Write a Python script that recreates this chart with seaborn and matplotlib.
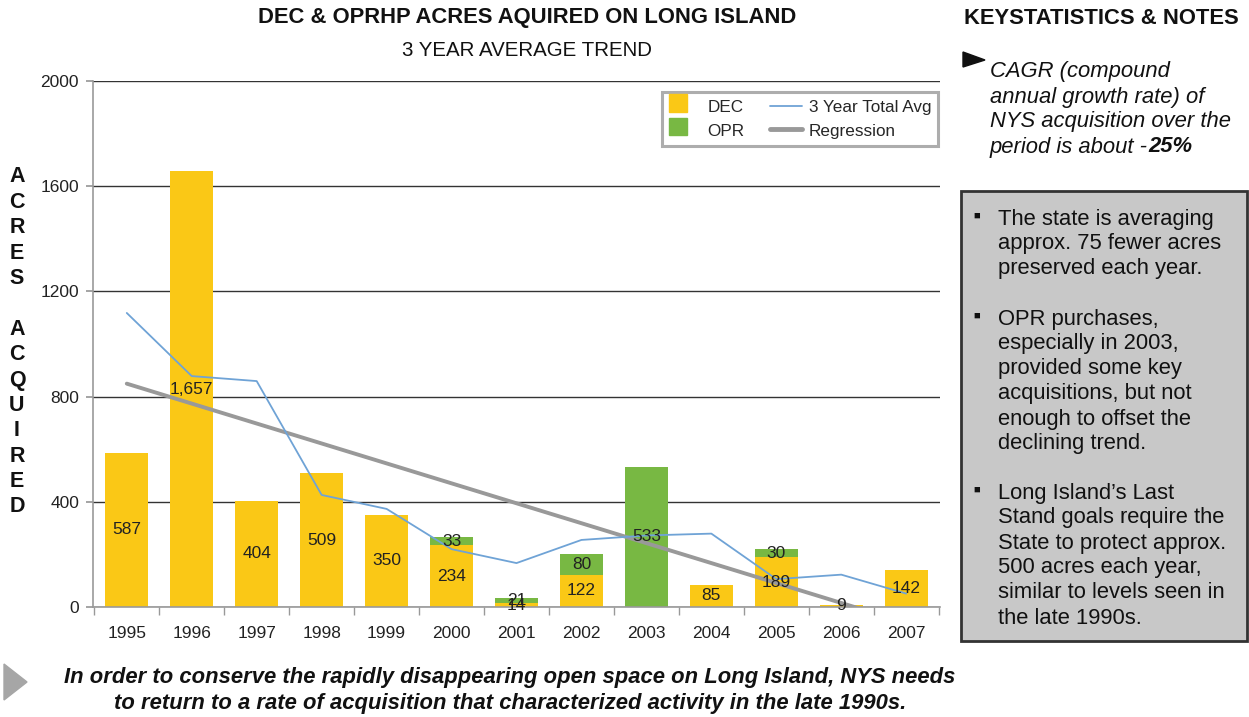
import matplotlib
matplotlib.use("Agg")
import matplotlib.pyplot as plt
import numpy as np
import pandas as pd
import seaborn as sns
from matplotlib.legend_handler import HandlerPatch
from matplotlib.lines import Line2D
from matplotlib.patches import Patch, Polygon, Rectangle

# data
years = ["1995", "1996", "1997", "1998", "1999", "2000", "2001",
         "2002", "2003", "2004", "2005", "2006", "2007"]
dec_acres = [587, 1657, 404, 509, 350, 234, 14, 122, 0, 85, 189, 9, 142]
opr_acres = [0, 0, 0, 0, 0, 33, 21, 80, 533, 0, 30, 0, 0]
avg_3yr = [1118, 878, 859, 426, 373, 220, 167, 255, 272, 279, 106, 123, 51]

DEC_C = "#FAC816"
OPR_C = "#78B843"
AVG_C = "#6FA3D6"
REG_C = "#999999"
TXT_C = "#111111"

W, H = 1249, 717


def fx(x):
    return x / W


def fy(y):
    return 1 - y / H


def lines_at(x, y0, step, lines, **kw):
    # one text per line so the spacing matches the slide exactly
    for k, ln in enumerate(lines):
        fig.text(fx(x), fy(y0 + k * step), ln, va="center", **kw)


df = pd.DataFrame({"year": years, "dec": dec_acres, "opr": opr_acres, "avg": avg_3yr})
df["total"] = df["dec"] + df["opr"]
df["pos"] = np.arange(len(df))
slope, icpt = np.polyfit(df["pos"], df["avg"], 1)
df["reg"] = icpt + slope * df["pos"]

sns.set_theme(style="white")
plt.rcParams["font.family"] = ["Liberation Sans", "DejaVu Sans"]

fig = plt.figure(figsize=(W / 100, H / 100), dpi=100)
ax = fig.add_axes([fx(93), fy(607), fx(940) - fx(93), fy(81) - fy(607)])

# stacked bars: total in green, DEC on top in yellow
sns.barplot(data=df, x="year", y="total", color=OPR_C, saturation=1, width=0.66,
            linewidth=0, ax=ax, zorder=2)
sns.barplot(data=df, x="year", y="dec", color=DEC_C, saturation=1, width=0.66,
            linewidth=0, ax=ax, zorder=2)

sns.lineplot(data=df, x="pos", y="avg", color=AVG_C, linewidth=1.3, ax=ax, zorder=4)
sns.lineplot(data=df, x="pos", y="reg", color=REG_C, linewidth=2.8, ax=ax, zorder=3)

# value labels centred in each segment
for i, r in df.iterrows():
    if r["dec"] > 0:
        ax.text(r["pos"], r["dec"] / 2, f"{r['dec']:,}", ha="center", va="center",
                fontsize=12.5, color="#222222", zorder=5)
    if r["opr"] > 0:
        ax.text(r["pos"], r["dec"] + r["opr"] / 2, f"{r['opr']:,}", ha="center",
                va="center", fontsize=12.5, color="#222222", zorder=5)

ax.set_xlim(-0.52, len(years) - 0.48)
ax.set_ylim(0, 2000)
ax.set_yticks([0, 400, 800, 1200, 1600, 2000])
ax.yaxis.grid(True, color="#333333", linewidth=1)
ax.set_axisbelow(True)
ax.set_xlabel("")
ax.set_ylabel("")
for s in ["top", "right"]:
    ax.spines[s].set_visible(False)
for s in ["left", "bottom"]:
    ax.spines[s].set_color("#999999")
    ax.spines[s].set_linewidth(1.2)
ax.tick_params(axis="y", which="major", left=True, length=5, color="#999999",
               labelsize=12.5, labelcolor="#222222", pad=5)
ax.tick_params(axis="x", which="major", length=0, labelsize=12.5, labelcolor="#222222", pad=14)
ax.set_xticks(np.arange(-0.5, len(years), 1), minor=True)
ax.tick_params(axis="x", which="minor", bottom=True, length=6, color="#999999", width=1)


def square(legend, orig_handle, xdescent, ydescent, width, height, fontsize):
    s = height * 1.15
    return Rectangle((xdescent, ydescent - (s - height) / 2), s, s)


handles = [Patch(color=DEC_C, label="DEC"), Patch(color=OPR_C, label="OPR"),
           Line2D([], [], color=AVG_C, lw=1.3, label="3 Year Total Avg"),
           Line2D([], [], color=REG_C, lw=3.5, label="Regression")]
leg = ax.legend(handles=handles, ncol=2, loc="upper right", bbox_to_anchor=(0.9976, 0.979),
                borderaxespad=0, fontsize=12.3, frameon=True, fancybox=False,
                handlelength=1.85, handleheight=1.0, columnspacing=1.5, labelspacing=0.42,
                borderpad=0.4, handletextpad=0.4,
                handler_map={Patch: HandlerPatch(patch_func=square)})
leg.get_frame().set_edgecolor("#999999")
leg.get_frame().set_linewidth(2.2)

# titles
fig.text(fx(527), fy(18), "DEC & OPRHP ACRES AQUIRED ON LONG ISLAND", ha="center",
         va="center", fontsize=15.8, fontweight="bold", color=TXT_C)
fig.text(fx(527), fy(50), "3 YEAR AVERAGE TREND", ha="center", va="center",
         fontsize=14.8, color=TXT_C)

# vertical stacked y label
ylab = list("ACRES") + [""] + list("ACQUIRED")
lines_at(17, 177, (507 - 177) / (len(ylab) - 1), ylab, ha="center", fontsize=15.5,
         fontweight="bold", color=TXT_C)

# right panel
fig.text(fx(1101), fy(18), "KEYSTATISTICS & NOTES", ha="center", va="center",
         fontsize=15.8, fontweight="bold", color=TXT_C)
fig.patches.append(Polygon([[fx(963), fy(52)], [fx(985), fy(60)], [fx(963), fy(67)]],
                           closed=True, transform=fig.transFigure, color=TXT_C))
lines_at(990, 72, 25, ["CAGR (compound", "annual growth rate) of", "NYS acquisition over the"],
         ha="left", fontsize=15.8, style="italic", color=TXT_C)
t1 = fig.text(fx(990), fy(147), "period is about -", ha="left", va="center",
              fontsize=15.8, style="italic", color=TXT_C)
fig.canvas.draw()
bb = t1.get_window_extent()
fig.text(bb.x1 / W, fy(147), "25%", ha="left", va="center", fontsize=15.8,
         style="italic", fontweight="bold", color=TXT_C)

fig.patches.append(Rectangle((fx(961), fy(641)), fx(1247) - fx(961), fy(191) - fy(641),
                             transform=fig.transFigure, facecolor="#C8C8C8",
                             edgecolor="#333333", linewidth=2))
notes = [
    (219, ["The state is averaging", "approx. 75 fewer acres", "preserved each year."]),
    (319, ["OPR purchases,", "especially in 2003,", "provided some key",
           "acquisitions, but not", "enough to offset the", "declining trend."]),
    (493, ["Long Island\u2019s Last", "Stand goals require the", "State to protect approx.",
           "500 acres each year,", "similar to levels seen in", "the late 1990s."]),
]
for yc, txt in notes:
    fig.text(fx(977), fy(yc - 3), "\u25a0", ha="center", va="center", fontsize=8,
             color=TXT_C)
    lines_at(998, yc, 25, txt, ha="left", fontsize=15.8, color=TXT_C)

# bottom message
fig.patches.append(Polygon([[fx(4), fy(664)], [fx(27), fy(682)], [fx(4), fy(700)]],
                           closed=True, transform=fig.transFigure, color="#A6A6A6"))
lines_at(510, 678, 25,
         ["In order to conserve the rapidly disappearing open space on Long Island, NYS needs",
          "to return to a rate of acquisition that characterized activity in the late 1990s."],
         ha="center", fontsize=15.8, fontweight="bold", style="italic", color=TXT_C)

fig.savefig("out.png", dpi=100)
